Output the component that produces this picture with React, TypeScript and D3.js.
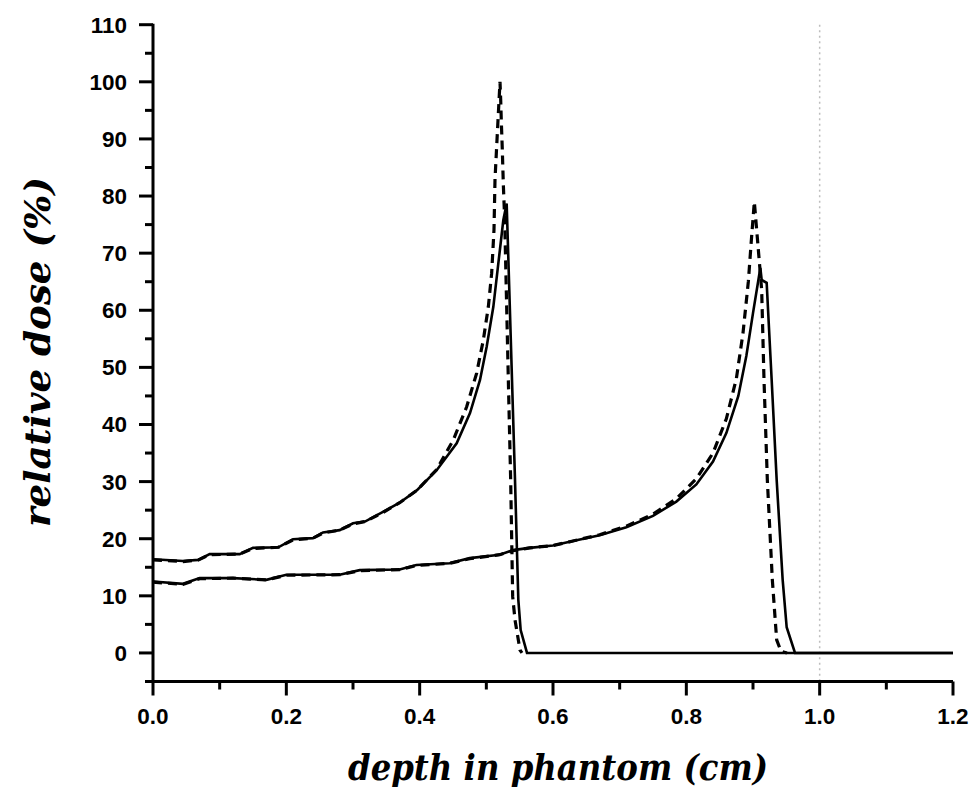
import React from 'react';
import * as d3 from 'd3';

// depth (cm), relative dose (%)
const shallowSolid: [number, number][] = [
  [0.0, 16.4], [0.045, 16.1], [0.068, 16.3], [0.085, 17.3], [0.13, 17.3],
  [0.15, 18.4], [0.188, 18.5], [0.21, 19.9], [0.24, 20.1], [0.255, 21.1],
  [0.28, 21.5], [0.3, 22.7], [0.318, 23.0], [0.345, 24.7], [0.37, 26.3],
  [0.396, 28.5], [0.4255, 32.0], [0.4555, 36.7], [0.4755, 42.0], [0.4905, 47.8],
  [0.5005, 53.6], [0.5105, 60.6], [0.518, 68.2], [0.5255, 75.8], [0.5305, 78.7],
  [0.5355, 59.5], [0.543, 30.3], [0.548, 9.3], [0.5515, 4.0], [0.561, 0],
  [1.2, 0]
];

const shallowDashed: [number, number][] = [
  [0.0, 16.3], [0.045, 16.0], [0.068, 16.3], [0.085, 17.2], [0.13, 17.3],
  [0.15, 18.3], [0.188, 18.5], [0.21, 19.8], [0.24, 20.1], [0.255, 21.0],
  [0.28, 21.5], [0.3, 22.6], [0.318, 23.0], [0.345, 24.6], [0.37, 26.3],
  [0.396, 28.5], [0.4255, 32.1], [0.4505, 37.3], [0.4705, 43.1], [0.4855, 49.0],
  [0.4955, 54.8], [0.503, 60.6], [0.508, 66.5], [0.5115, 74.1], [0.513, 82.9],
  [0.5165, 91.0], [0.5205, 100.0], [0.5215, 97.0], [0.5225, 93.0], [0.524, 88.0],
  [0.5255, 82.0], [0.5275, 76.0], [0.533, 47.8], [0.5365, 30.3], [0.5395, 9.9],
  [0.543, 5.8], [0.5505, 0.5], [0.5535, 0]
];

const deepSolid: [number, number][] = [
  [0.0, 12.5], [0.045, 12.1], [0.07, 13.1], [0.12, 13.1], [0.17, 12.8],
  [0.2, 13.7], [0.28, 13.7], [0.31, 14.5], [0.37, 14.6], [0.395, 15.4],
  [0.445, 15.7], [0.475, 16.6], [0.52, 17.2], [0.54, 18.0], [0.565, 18.4],
  [0.6, 18.8], [0.63, 19.6], [0.67, 20.6], [0.71, 22.0], [0.75, 24.0],
  [0.785, 26.5], [0.815, 29.5], [0.84, 33.5], [0.86, 38.5], [0.878, 45.0],
  [0.89, 52.0], [0.9, 59.5], [0.911, 67.4], [0.913, 65.3], [0.9205, 64.8],
  [0.928, 47.8], [0.9355, 30.3], [0.9445, 12.8], [0.9505, 4.5], [0.963, 0],
  [1.2, 0]
];

const deepDashed: [number, number][] = [
  [0.0, 12.4], [0.045, 12.0], [0.07, 13.0], [0.12, 13.1], [0.17, 12.8],
  [0.2, 13.6], [0.28, 13.7], [0.31, 14.4], [0.37, 14.6], [0.395, 15.3],
  [0.445, 15.7], [0.475, 16.5], [0.52, 17.2], [0.54, 17.9], [0.565, 18.4],
  [0.6, 18.8], [0.63, 19.6], [0.67, 20.7], [0.71, 22.2], [0.75, 24.3],
  [0.785, 27.0], [0.815, 30.5], [0.84, 35.0], [0.86, 41.0], [0.875, 48.0],
  [0.885, 56.0], [0.893, 65.0], [0.898, 73.0], [0.902, 79.0], [0.907, 72.0],
  [0.913, 63.6], [0.9165, 47.8], [0.9215, 30.3], [0.929, 12.8], [0.9355, 2.3],
  [0.942, 0.3], [0.951, 0]
];

const xTicks = [0, 0.2, 0.4, 0.6, 0.8, 1.0, 1.2];
const xMinorTicks = [0.1, 0.3, 0.5, 0.7, 0.9, 1.1];
const yTicks = [0, 10, 20, 30, 40, 50, 60, 70, 80, 90, 100, 110];
const yMinorTicks = [-5, 5, 15, 25, 35, 45, 55, 65, 75, 85, 95, 105];
const markerDepth = 1.0;

const width = 972;
const height = 792;
const left = 153;
const right = 953;
const top = 24.7;
const bottom = 681.5;

export default function App() {
  const x = d3.scaleLinear().domain([0, 1.2]).range([left, right]);
  const y = d3.scaleLinear().domain([-5, 110]).range([bottom, top]);

  const line = d3
    .line<[number, number]>()
    .x(d => x(d[0]))
    .y(d => y(d[1]));

  const tickFont = {
    fontFamily: '"Liberation Sans", Arial, sans-serif',
    fontWeight: 'bold' as const,
    fontSize: 22.5
  };
  const titleFont = {
    fontFamily: '"DejaVu Serif", serif',
    fontWeight: 'bold' as const,
    fontStyle: 'italic' as const,
    fontSize: 35
  };

  return (
    <svg
      width={width}
      height={height}
      style={{ position: 'absolute', left: 0, top: 0, display: 'block', background: '#fff' }}
    >
      {/* reference line at 1.0 cm */}
      <line
        x1={x(markerDepth)}
        x2={x(markerDepth)}
        y1={y(110)}
        y2={bottom}
        stroke="#bdbdbd"
        strokeWidth={1.5}
        strokeDasharray="2,3.5"
      />

      <path d={line(shallowSolid) || ''} fill="none" stroke="#000" strokeWidth={2.6} />
      <path d={line(deepSolid) || ''} fill="none" stroke="#000" strokeWidth={2.6} />
      <path
        d={line(shallowDashed) || ''}
        fill="none"
        stroke="#000"
        strokeWidth={3.2}
        strokeDasharray="9,6"
      />
      <path
        d={line(deepDashed) || ''}
        fill="none"
        stroke="#000"
        strokeWidth={3.2}
        strokeDasharray="9,6"
      />

      {/* y axis */}
      <line x1={left} x2={left} y1={top - 1} y2={bottom + 1.5} stroke="#000" strokeWidth={3} />
      {yTicks.map(t => (
        <g key={'y' + t}>
          <line x1={left - 14} x2={left} y1={y(t)} y2={y(t)} stroke="#000" strokeWidth={3} />
          <text x={left - 26} y={y(t) + 8} textAnchor="end" style={tickFont}>
            {t}
          </text>
        </g>
      ))}
      {yMinorTicks.map(t => (
        <line key={'ym' + t} x1={left - 8} x2={left} y1={y(t)} y2={y(t)} stroke="#000" strokeWidth={3} />
      ))}

      {/* x axis */}
      <line x1={left - 1.5} x2={right} y1={bottom} y2={bottom} stroke="#000" strokeWidth={3} />
      {xTicks.map(t => (
        <g key={'x' + t}>
          <line x1={x(t)} x2={x(t)} y1={bottom} y2={bottom + 14} stroke="#000" strokeWidth={3} />
          <text x={x(t)} y={bottom + 42} textAnchor="middle" style={tickFont}>
            {t.toFixed(1)}
          </text>
        </g>
      ))}
      {xMinorTicks.map(t => (
        <line key={'xm' + t} x1={x(t)} x2={x(t)} y1={bottom} y2={bottom + 8} stroke="#000" strokeWidth={3} />
      ))}

      <text
        x={558}
        y={780}
        textAnchor="middle"
        textLength={420}
        lengthAdjust="spacingAndGlyphs"
        style={titleFont}
      >
        depth in phantom (cm)
      </text>
      <text
        transform={`translate(50, 352) rotate(-90)`}
        textAnchor="middle"
        textLength={350}
        lengthAdjust="spacingAndGlyphs"
        style={titleFont}
      >
        relative dose (%)
      </text>
    </svg>
  );
}
